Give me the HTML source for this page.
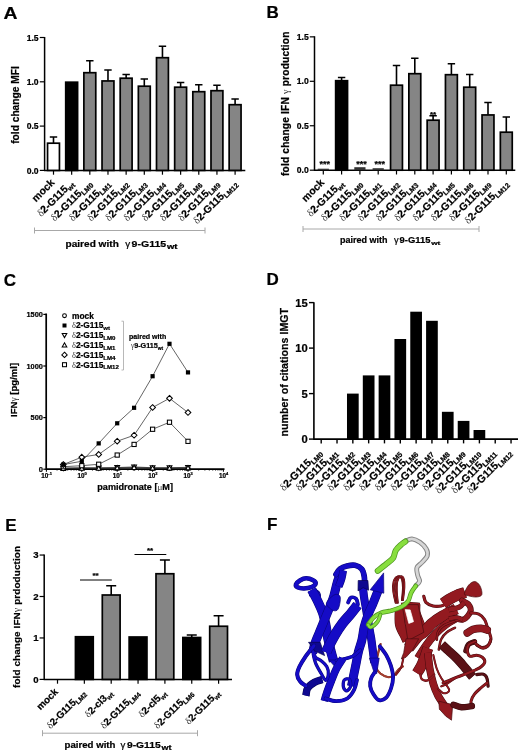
<!DOCTYPE html>
<html><head><meta charset="utf-8"><title>Figure</title>
<style>html,body{margin:0;padding:0;background:#fff}svg{display:block}text{font-family:"Liberation Sans",Arial,Helvetica,sans-serif;fill:#000;stroke:#000;stroke-width:0.22px}</style></head><body>
<svg width="520" height="756" viewBox="0 0 520 756">
<rect width="520" height="756" fill="#fff"/>
<g id="panelA">
<text x="3.6" y="18.8" font-size="17" font-weight="bold" textLength="14" lengthAdjust="spacingAndGlyphs">A</text>
<path d="M44.6 37V170.4M44.0 170.4H245.3" stroke="#000" stroke-width="1.5" fill="none"/>
<path d="M39.8 37.50H44.6" stroke="#000" stroke-width="1.2"/>
<text x="38.6" y="40.60" font-size="8.6" font-weight="bold" text-anchor="end">1.5</text>
<path d="M39.8 81.80H44.6" stroke="#000" stroke-width="1.2"/>
<text x="38.6" y="84.90" font-size="8.6" font-weight="bold" text-anchor="end">1.0</text>
<path d="M39.8 126.10H44.6" stroke="#000" stroke-width="1.2"/>
<text x="38.6" y="129.20" font-size="8.6" font-weight="bold" text-anchor="end">0.5</text>
<path d="M39.8 170.40H44.6" stroke="#000" stroke-width="1.2"/>
<text x="38.6" y="173.50" font-size="8.6" font-weight="bold" text-anchor="end">0.0</text>
<text transform="translate(18.5,105) rotate(-90)" text-anchor="middle" font-size="10.1" font-weight="bold" textLength="77.7" lengthAdjust="spacingAndGlyphs">fold change MFI</text>
<path d="M53.50 170.4V174.70" stroke="#000" stroke-width="1.2"/>
<path d="M53.50 143.00V137.00M49.80 137.00H57.20" stroke="#000" stroke-width="1.6" fill="none"/>
<rect x="47.55" y="143.20" width="11.90" height="27.20" fill="#fff" stroke="#000" stroke-width="1.7"/>
<text transform="translate(55.10,183.20) rotate(-45)" text-anchor="end" font-size="10.4" font-weight="bold">mock</text>
<path d="M71.66 170.4V174.70" stroke="#000" stroke-width="1.2"/>
<rect x="65.71" y="82.20" width="11.90" height="88.20" fill="#000" stroke="#000" stroke-width="1.7"/>
<text transform="translate(74.26,184.20) rotate(-45)" text-anchor="end" font-size="10.4" font-weight="bold"><tspan font-family="Liberation Serif, DejaVu Serif, serif" font-weight="normal" fill="#333" stroke="none">δ</tspan>2-G115<tspan font-size="7.07" dy="2.29">wt</tspan></text>
<path d="M89.82 170.4V174.70" stroke="#000" stroke-width="1.2"/>
<path d="M89.82 72.50V60.75M86.12 60.75H93.52" stroke="#000" stroke-width="1.6" fill="none"/>
<rect x="83.87" y="72.70" width="11.90" height="97.70" fill="#858585" stroke="#000" stroke-width="1.7"/>
<text transform="translate(92.42,184.20) rotate(-45)" text-anchor="end" font-size="10.4" font-weight="bold"><tspan font-family="Liberation Serif, DejaVu Serif, serif" font-weight="normal" fill="#333" stroke="none">δ</tspan>2-G115<tspan font-size="7.07" dy="2.29">LM0</tspan></text>
<path d="M107.98 170.4V174.70" stroke="#000" stroke-width="1.2"/>
<path d="M107.98 80.75V70.00M104.28 70.00H111.68" stroke="#000" stroke-width="1.6" fill="none"/>
<rect x="102.03" y="80.95" width="11.90" height="89.45" fill="#858585" stroke="#000" stroke-width="1.7"/>
<text transform="translate(110.58,184.20) rotate(-45)" text-anchor="end" font-size="10.4" font-weight="bold"><tspan font-family="Liberation Serif, DejaVu Serif, serif" font-weight="normal" fill="#333" stroke="none">δ</tspan>2-G115<tspan font-size="7.07" dy="2.29">LM1</tspan></text>
<path d="M126.14 170.4V174.70" stroke="#000" stroke-width="1.2"/>
<path d="M126.14 78.00V74.50M122.44 74.50H129.84" stroke="#000" stroke-width="1.6" fill="none"/>
<rect x="120.19" y="78.20" width="11.90" height="92.20" fill="#858585" stroke="#000" stroke-width="1.7"/>
<text transform="translate(128.74,184.20) rotate(-45)" text-anchor="end" font-size="10.4" font-weight="bold"><tspan font-family="Liberation Serif, DejaVu Serif, serif" font-weight="normal" fill="#333" stroke="none">δ</tspan>2-G115<tspan font-size="7.07" dy="2.29">LM2</tspan></text>
<path d="M144.30 170.4V174.70" stroke="#000" stroke-width="1.2"/>
<path d="M144.30 86.00V79.00M140.60 79.00H148.00" stroke="#000" stroke-width="1.6" fill="none"/>
<rect x="138.35" y="86.20" width="11.90" height="84.20" fill="#858585" stroke="#000" stroke-width="1.7"/>
<text transform="translate(146.90,184.20) rotate(-45)" text-anchor="end" font-size="10.4" font-weight="bold"><tspan font-family="Liberation Serif, DejaVu Serif, serif" font-weight="normal" fill="#333" stroke="none">δ</tspan>2-G115<tspan font-size="7.07" dy="2.29">LM3</tspan></text>
<path d="M162.46 170.4V174.70" stroke="#000" stroke-width="1.2"/>
<path d="M162.46 57.50V46.25M158.76 46.25H166.16" stroke="#000" stroke-width="1.6" fill="none"/>
<rect x="156.51" y="57.70" width="11.90" height="112.70" fill="#858585" stroke="#000" stroke-width="1.7"/>
<text transform="translate(165.06,184.20) rotate(-45)" text-anchor="end" font-size="10.4" font-weight="bold"><tspan font-family="Liberation Serif, DejaVu Serif, serif" font-weight="normal" fill="#333" stroke="none">δ</tspan>2-G115<tspan font-size="7.07" dy="2.29">LM4</tspan></text>
<path d="M180.62 170.4V174.70" stroke="#000" stroke-width="1.2"/>
<path d="M180.62 87.00V82.50M176.92 82.50H184.32" stroke="#000" stroke-width="1.6" fill="none"/>
<rect x="174.67" y="87.20" width="11.90" height="83.20" fill="#858585" stroke="#000" stroke-width="1.7"/>
<text transform="translate(183.22,184.20) rotate(-45)" text-anchor="end" font-size="10.4" font-weight="bold"><tspan font-family="Liberation Serif, DejaVu Serif, serif" font-weight="normal" fill="#333" stroke="none">δ</tspan>2-G115<tspan font-size="7.07" dy="2.29">LM5</tspan></text>
<path d="M198.78 170.4V174.70" stroke="#000" stroke-width="1.2"/>
<path d="M198.78 91.50V84.75M195.08 84.75H202.48" stroke="#000" stroke-width="1.6" fill="none"/>
<rect x="192.83" y="91.70" width="11.90" height="78.70" fill="#858585" stroke="#000" stroke-width="1.7"/>
<text transform="translate(201.38,184.20) rotate(-45)" text-anchor="end" font-size="10.4" font-weight="bold"><tspan font-family="Liberation Serif, DejaVu Serif, serif" font-weight="normal" fill="#333" stroke="none">δ</tspan>2-G115<tspan font-size="7.07" dy="2.29">LM6</tspan></text>
<path d="M216.94 170.4V174.70" stroke="#000" stroke-width="1.2"/>
<path d="M216.94 90.50V85.25M213.24 85.25H220.64" stroke="#000" stroke-width="1.6" fill="none"/>
<rect x="210.99" y="90.70" width="11.90" height="79.70" fill="#858585" stroke="#000" stroke-width="1.7"/>
<text transform="translate(219.54,184.20) rotate(-45)" text-anchor="end" font-size="10.4" font-weight="bold"><tspan font-family="Liberation Serif, DejaVu Serif, serif" font-weight="normal" fill="#333" stroke="none">δ</tspan>2-G115<tspan font-size="7.07" dy="2.29">LM9</tspan></text>
<path d="M235.10 170.4V174.70" stroke="#000" stroke-width="1.2"/>
<path d="M235.10 104.50V99.00M231.40 99.00H238.80" stroke="#000" stroke-width="1.6" fill="none"/>
<rect x="229.15" y="104.70" width="11.90" height="65.70" fill="#858585" stroke="#000" stroke-width="1.7"/>
<text transform="translate(237.70,184.20) rotate(-45)" text-anchor="end" font-size="10.4" font-weight="bold"><tspan font-family="Liberation Serif, DejaVu Serif, serif" font-weight="normal" fill="#333" stroke="none">δ</tspan>2-G115<tspan font-size="7.07" dy="2.29">LM12</tspan></text>
<path d="M34.5 230.5H205M34.5 227.5V233.5M205 227.5V233.5" stroke="#a8a8a8" stroke-width="1" fill="none"/>
<text x="65.5" y="246.8" font-size="9.9" font-weight="bold" textLength="53.3" lengthAdjust="spacingAndGlyphs">paired with</text>
<text x="125.2" y="246.8" font-size="9.9" font-family="Liberation Serif, DejaVu Serif, serif" font-weight="normal" fill="#333" stroke="none">γ</text>
<text x="131.5" y="246.8" font-size="9.9" font-weight="bold" textLength="34.7" lengthAdjust="spacingAndGlyphs">9-G115</text>
<text x="167" y="248.98" font-size="6.60" font-weight="bold" textLength="10.5" lengthAdjust="spacingAndGlyphs">wt</text>
</g>
<g id="panelB">
<text x="266.6" y="18.2" font-size="17" font-weight="bold">B</text>
<path d="M314.5 36.3V170.2M313.9 170.2H515.3" stroke="#000" stroke-width="1.5" fill="none"/>
<path d="M309.8 36.85H314.5" stroke="#000" stroke-width="1.2"/>
<text x="308.7" y="39.95" font-size="8.6" font-weight="bold" text-anchor="end">1.5</text>
<path d="M309.8 81.30H314.5" stroke="#000" stroke-width="1.2"/>
<text x="308.7" y="84.40" font-size="8.6" font-weight="bold" text-anchor="end">1.0</text>
<path d="M309.8 125.75H314.5" stroke="#000" stroke-width="1.2"/>
<text x="308.7" y="128.85" font-size="8.6" font-weight="bold" text-anchor="end">0.5</text>
<path d="M309.8 170.20H314.5" stroke="#000" stroke-width="1.2"/>
<text x="308.7" y="173.30" font-size="8.6" font-weight="bold" text-anchor="end">0.0</text>
<text transform="translate(289.2,176) rotate(-90)" font-size="10.2" font-weight="bold" textLength="144.5" lengthAdjust="spacing">fold change IFN <tspan font-family="Liberation Serif, DejaVu Serif, serif" font-weight="normal" fill="#333" stroke="none">γ</tspan> production</text>
<path d="M323.30 170.2V174.50" stroke="#000" stroke-width="1.2"/>
<rect x="317.70" y="168.70" width="11.2" height="1.50" fill="#333"/>
<text transform="translate(324.90,183.20) rotate(-45)" text-anchor="end" font-size="10.4" font-weight="bold">mock</text>
<path d="M341.60 170.2V174.50" stroke="#000" stroke-width="1.2"/>
<path d="M341.60 80.50V77.50M337.90 77.50H345.30" stroke="#000" stroke-width="1.6" fill="none"/>
<rect x="335.65" y="80.70" width="11.90" height="89.50" fill="#000" stroke="#000" stroke-width="1.7"/>
<text transform="translate(344.20,184.20) rotate(-45)" text-anchor="end" font-size="10.4" font-weight="bold"><tspan font-family="Liberation Serif, DejaVu Serif, serif" font-weight="normal" fill="#333" stroke="none">δ</tspan>2-G115<tspan font-size="7.07" dy="2.29">wt</tspan></text>
<path d="M359.90 170.2V174.50" stroke="#000" stroke-width="1.2"/>
<rect x="354.30" y="167.20" width="11.2" height="3.00" fill="#333"/>
<text transform="translate(362.50,184.20) rotate(-45)" text-anchor="end" font-size="10.4" font-weight="bold"><tspan font-family="Liberation Serif, DejaVu Serif, serif" font-weight="normal" fill="#333" stroke="none">δ</tspan>2-G115<tspan font-size="7.07" dy="2.29">LM0</tspan></text>
<path d="M378.20 170.2V174.50" stroke="#000" stroke-width="1.2"/>
<rect x="372.60" y="168.20" width="11.2" height="2.00" fill="#333"/>
<text transform="translate(380.80,184.20) rotate(-45)" text-anchor="end" font-size="10.4" font-weight="bold"><tspan font-family="Liberation Serif, DejaVu Serif, serif" font-weight="normal" fill="#333" stroke="none">δ</tspan>2-G115<tspan font-size="7.07" dy="2.29">LM1</tspan></text>
<path d="M396.50 170.2V174.50" stroke="#000" stroke-width="1.2"/>
<path d="M396.50 85.00V65.50M392.80 65.50H400.20" stroke="#000" stroke-width="1.6" fill="none"/>
<rect x="390.55" y="85.20" width="11.90" height="85.00" fill="#858585" stroke="#000" stroke-width="1.7"/>
<text transform="translate(399.10,184.20) rotate(-45)" text-anchor="end" font-size="10.4" font-weight="bold"><tspan font-family="Liberation Serif, DejaVu Serif, serif" font-weight="normal" fill="#333" stroke="none">δ</tspan>2-G115<tspan font-size="7.07" dy="2.29">LM2</tspan></text>
<path d="M414.80 170.2V174.50" stroke="#000" stroke-width="1.2"/>
<path d="M414.80 73.50V58.25M411.10 58.25H418.50" stroke="#000" stroke-width="1.6" fill="none"/>
<rect x="408.85" y="73.70" width="11.90" height="96.50" fill="#858585" stroke="#000" stroke-width="1.7"/>
<text transform="translate(417.40,184.20) rotate(-45)" text-anchor="end" font-size="10.4" font-weight="bold"><tspan font-family="Liberation Serif, DejaVu Serif, serif" font-weight="normal" fill="#333" stroke="none">δ</tspan>2-G115<tspan font-size="7.07" dy="2.29">LM3</tspan></text>
<path d="M433.10 170.2V174.50" stroke="#000" stroke-width="1.2"/>
<path d="M433.10 120.00V115.75M429.40 115.75H436.80" stroke="#000" stroke-width="1.6" fill="none"/>
<rect x="427.15" y="120.20" width="11.90" height="50.00" fill="#858585" stroke="#000" stroke-width="1.7"/>
<text transform="translate(435.70,184.20) rotate(-45)" text-anchor="end" font-size="10.4" font-weight="bold"><tspan font-family="Liberation Serif, DejaVu Serif, serif" font-weight="normal" fill="#333" stroke="none">δ</tspan>2-G115<tspan font-size="7.07" dy="2.29">LM4</tspan></text>
<path d="M451.40 170.2V174.50" stroke="#000" stroke-width="1.2"/>
<path d="M451.40 74.50V63.75M447.70 63.75H455.10" stroke="#000" stroke-width="1.6" fill="none"/>
<rect x="445.45" y="74.70" width="11.90" height="95.50" fill="#858585" stroke="#000" stroke-width="1.7"/>
<text transform="translate(454.00,184.20) rotate(-45)" text-anchor="end" font-size="10.4" font-weight="bold"><tspan font-family="Liberation Serif, DejaVu Serif, serif" font-weight="normal" fill="#333" stroke="none">δ</tspan>2-G115<tspan font-size="7.07" dy="2.29">LM5</tspan></text>
<path d="M469.70 170.2V174.50" stroke="#000" stroke-width="1.2"/>
<path d="M469.70 87.00V74.50M466.00 74.50H473.40" stroke="#000" stroke-width="1.6" fill="none"/>
<rect x="463.75" y="87.20" width="11.90" height="83.00" fill="#858585" stroke="#000" stroke-width="1.7"/>
<text transform="translate(472.30,184.20) rotate(-45)" text-anchor="end" font-size="10.4" font-weight="bold"><tspan font-family="Liberation Serif, DejaVu Serif, serif" font-weight="normal" fill="#333" stroke="none">δ</tspan>2-G115<tspan font-size="7.07" dy="2.29">LM6</tspan></text>
<path d="M488.00 170.2V174.50" stroke="#000" stroke-width="1.2"/>
<path d="M488.00 114.75V102.50M484.30 102.50H491.70" stroke="#000" stroke-width="1.6" fill="none"/>
<rect x="482.05" y="114.95" width="11.90" height="55.25" fill="#858585" stroke="#000" stroke-width="1.7"/>
<text transform="translate(490.60,184.20) rotate(-45)" text-anchor="end" font-size="10.4" font-weight="bold"><tspan font-family="Liberation Serif, DejaVu Serif, serif" font-weight="normal" fill="#333" stroke="none">δ</tspan>2-G115<tspan font-size="7.07" dy="2.29">LM9</tspan></text>
<path d="M506.30 170.2V174.50" stroke="#000" stroke-width="1.2"/>
<path d="M506.30 132.00V117.00M502.60 117.00H510.00" stroke="#000" stroke-width="1.6" fill="none"/>
<rect x="500.35" y="132.20" width="11.90" height="38.00" fill="#858585" stroke="#000" stroke-width="1.7"/>
<text transform="translate(508.90,184.20) rotate(-45)" text-anchor="end" font-size="10.4" font-weight="bold"><tspan font-family="Liberation Serif, DejaVu Serif, serif" font-weight="normal" fill="#333" stroke="none">δ</tspan>2-G115<tspan font-size="7.07" dy="2.29">LM12</tspan></text>
<text x="324.80" y="166.5" font-size="9" font-weight="bold" text-anchor="middle" fill="#444">***</text>
<text x="361.40" y="166.5" font-size="9" font-weight="bold" text-anchor="middle" fill="#444">***</text>
<text x="379.70" y="166.5" font-size="9" font-weight="bold" text-anchor="middle" fill="#444">***</text>
<text x="433.10" y="117" font-size="8" font-weight="bold" text-anchor="middle" fill="#444">**</text>
<path d="M303 229H479M303 226V232M479 226V232" stroke="#a8a8a8" stroke-width="1" fill="none"/>
<text x="340" y="243.2" font-size="9.3" font-weight="bold" textLength="47.4" lengthAdjust="spacingAndGlyphs">paired with</text>
<text x="394.0" y="243.2" font-size="9.3" font-family="Liberation Serif, DejaVu Serif, serif" font-weight="normal" fill="#333" stroke="none">γ</text>
<text x="399.6" y="243.2" font-size="9.3" font-weight="bold" textLength="30.8" lengthAdjust="spacingAndGlyphs">9-G115</text>
<text x="431.2" y="245.25" font-size="6.20" font-weight="bold" textLength="9.2" lengthAdjust="spacingAndGlyphs">wt</text>
</g>
<g id="panelC">
<text x="3.8" y="285.6" font-size="17" font-weight="bold">C</text>
<path d="M46.2 313.6V469.2M45.400000000000006 469.2H224.5" stroke="#000" stroke-width="1.7" fill="none"/>
<path d="M43.3 314.40H46.2" stroke="#000" stroke-width="1.2"/>
<text x="42.9" y="317.20" font-size="7.8" font-weight="bold" text-anchor="end" textLength="16.5" lengthAdjust="spacingAndGlyphs">1500</text>
<path d="M43.3 366.00H46.2" stroke="#000" stroke-width="1.2"/>
<text x="42.9" y="368.80" font-size="7.8" font-weight="bold" text-anchor="end" textLength="16.5" lengthAdjust="spacingAndGlyphs">1000</text>
<path d="M43.3 417.60H46.2" stroke="#000" stroke-width="1.2"/>
<text x="42.9" y="420.40" font-size="7.8" font-weight="bold" text-anchor="end" textLength="12.4" lengthAdjust="spacingAndGlyphs">500</text>
<path d="M43.3 469.20H46.2" stroke="#000" stroke-width="1.2"/>
<text x="42.9" y="472.00" font-size="7.8" font-weight="bold" text-anchor="end" textLength="4.2" lengthAdjust="spacingAndGlyphs">0</text>
<path d="M46.40 469.2V471.8" stroke="#000" stroke-width="1"/>
<text x="46.60" y="477.80" font-size="6.3" font-weight="bold" text-anchor="middle">10<tspan font-size="4" dy="-2.4">-1</tspan></text>
<path d="M57.06 469.2V470.8" stroke="#000" stroke-width="0.6"/>
<path d="M63.29 469.2V470.8" stroke="#000" stroke-width="0.6"/>
<path d="M67.71 469.2V470.8" stroke="#000" stroke-width="0.6"/>
<path d="M71.14 469.2V470.8" stroke="#000" stroke-width="0.6"/>
<path d="M73.95 469.2V470.8" stroke="#000" stroke-width="0.6"/>
<path d="M76.32 469.2V470.8" stroke="#000" stroke-width="0.6"/>
<path d="M78.37 469.2V470.8" stroke="#000" stroke-width="0.6"/>
<path d="M80.18 469.2V470.8" stroke="#000" stroke-width="0.6"/>
<path d="M81.80 469.2V471.8" stroke="#000" stroke-width="1"/>
<text x="82.00" y="477.80" font-size="6.3" font-weight="bold" text-anchor="middle">10<tspan font-size="4" dy="-2.4">0</tspan></text>
<path d="M92.46 469.2V470.8" stroke="#000" stroke-width="0.6"/>
<path d="M98.69 469.2V470.8" stroke="#000" stroke-width="0.6"/>
<path d="M103.11 469.2V470.8" stroke="#000" stroke-width="0.6"/>
<path d="M106.54 469.2V470.8" stroke="#000" stroke-width="0.6"/>
<path d="M109.35 469.2V470.8" stroke="#000" stroke-width="0.6"/>
<path d="M111.72 469.2V470.8" stroke="#000" stroke-width="0.6"/>
<path d="M113.77 469.2V470.8" stroke="#000" stroke-width="0.6"/>
<path d="M115.58 469.2V470.8" stroke="#000" stroke-width="0.6"/>
<path d="M117.20 469.2V471.8" stroke="#000" stroke-width="1"/>
<text x="117.40" y="477.80" font-size="6.3" font-weight="bold" text-anchor="middle">10<tspan font-size="4" dy="-2.4">1</tspan></text>
<path d="M127.86 469.2V470.8" stroke="#000" stroke-width="0.6"/>
<path d="M134.09 469.2V470.8" stroke="#000" stroke-width="0.6"/>
<path d="M138.51 469.2V470.8" stroke="#000" stroke-width="0.6"/>
<path d="M141.94 469.2V470.8" stroke="#000" stroke-width="0.6"/>
<path d="M144.75 469.2V470.8" stroke="#000" stroke-width="0.6"/>
<path d="M147.12 469.2V470.8" stroke="#000" stroke-width="0.6"/>
<path d="M149.17 469.2V470.8" stroke="#000" stroke-width="0.6"/>
<path d="M150.98 469.2V470.8" stroke="#000" stroke-width="0.6"/>
<path d="M152.60 469.2V471.8" stroke="#000" stroke-width="1"/>
<text x="152.80" y="477.80" font-size="6.3" font-weight="bold" text-anchor="middle">10<tspan font-size="4" dy="-2.4">2</tspan></text>
<path d="M163.26 469.2V470.8" stroke="#000" stroke-width="0.6"/>
<path d="M169.49 469.2V470.8" stroke="#000" stroke-width="0.6"/>
<path d="M173.91 469.2V470.8" stroke="#000" stroke-width="0.6"/>
<path d="M177.34 469.2V470.8" stroke="#000" stroke-width="0.6"/>
<path d="M180.15 469.2V470.8" stroke="#000" stroke-width="0.6"/>
<path d="M182.52 469.2V470.8" stroke="#000" stroke-width="0.6"/>
<path d="M184.57 469.2V470.8" stroke="#000" stroke-width="0.6"/>
<path d="M186.38 469.2V470.8" stroke="#000" stroke-width="0.6"/>
<path d="M188.00 469.2V471.8" stroke="#000" stroke-width="1"/>
<text x="188.20" y="477.80" font-size="6.3" font-weight="bold" text-anchor="middle">10<tspan font-size="4" dy="-2.4">3</tspan></text>
<path d="M198.66 469.2V470.8" stroke="#000" stroke-width="0.6"/>
<path d="M204.89 469.2V470.8" stroke="#000" stroke-width="0.6"/>
<path d="M209.31 469.2V470.8" stroke="#000" stroke-width="0.6"/>
<path d="M212.74 469.2V470.8" stroke="#000" stroke-width="0.6"/>
<path d="M215.55 469.2V470.8" stroke="#000" stroke-width="0.6"/>
<path d="M217.92 469.2V470.8" stroke="#000" stroke-width="0.6"/>
<path d="M219.97 469.2V470.8" stroke="#000" stroke-width="0.6"/>
<path d="M221.78 469.2V470.8" stroke="#000" stroke-width="0.6"/>
<path d="M223.40 469.2V471.8" stroke="#000" stroke-width="1"/>
<text x="223.60" y="477.80" font-size="6.3" font-weight="bold" text-anchor="middle">10<tspan font-size="4" dy="-2.4">4</tspan></text>
<text transform="translate(17.1,416.9) rotate(-90)" font-size="9.5" font-weight="bold" textLength="54" lengthAdjust="spacing">IFN<tspan font-family="Liberation Serif, DejaVu Serif, serif" font-weight="normal" fill="#333" stroke="none">γ</tspan> [pg/ml]</text>
<text x="97.3" y="489.6" font-size="9.1" font-weight="bold">pamidronate [<tspan font-family="Liberation Serif, DejaVu Serif, serif" font-weight="normal" fill="#333" stroke="none">μ</tspan>M]</text>
<polyline points="63.29,467.96 81.80,467.76 98.69,467.96 117.20,468.17 134.09,467.96 152.60,468.17 169.49,468.17 188.00,468.17" fill="none" stroke="#222" stroke-width="0.7"/>
<circle cx="63.29" cy="467.96" r="1.99" fill="#fff" stroke="#000" stroke-width="1.05"/>
<circle cx="81.80" cy="467.76" r="1.99" fill="#fff" stroke="#000" stroke-width="1.05"/>
<circle cx="98.69" cy="467.96" r="1.99" fill="#fff" stroke="#000" stroke-width="1.05"/>
<circle cx="117.20" cy="468.17" r="1.99" fill="#fff" stroke="#000" stroke-width="1.05"/>
<circle cx="134.09" cy="467.96" r="1.99" fill="#fff" stroke="#000" stroke-width="1.05"/>
<circle cx="152.60" cy="468.17" r="1.99" fill="#fff" stroke="#000" stroke-width="1.05"/>
<circle cx="169.49" cy="468.17" r="1.99" fill="#fff" stroke="#000" stroke-width="1.05"/>
<circle cx="188.00" cy="468.17" r="1.99" fill="#fff" stroke="#000" stroke-width="1.05"/>
<polyline points="63.29,468.37 81.80,468.17 98.69,467.96 117.20,467.55 134.09,466.93 152.60,467.76 169.49,467.76 188.00,467.34" fill="none" stroke="#222" stroke-width="0.7"/>
<path d="M60.88 466.44H65.71L63.29 470.79Z" fill="#fff" stroke="#000" stroke-width="1.05"/>
<path d="M79.38 466.24H84.22L81.80 470.58Z" fill="#fff" stroke="#000" stroke-width="1.05"/>
<path d="M96.28 466.03H101.11L98.69 470.38Z" fill="#fff" stroke="#000" stroke-width="1.05"/>
<path d="M114.78 465.62H119.61L117.20 469.96Z" fill="#fff" stroke="#000" stroke-width="1.05"/>
<path d="M131.68 465.00H136.51L134.09 469.34Z" fill="#fff" stroke="#000" stroke-width="1.05"/>
<path d="M150.19 465.82H155.01L152.60 470.17Z" fill="#fff" stroke="#000" stroke-width="1.05"/>
<path d="M167.08 465.82H171.91L169.49 470.17Z" fill="#fff" stroke="#000" stroke-width="1.05"/>
<path d="M185.59 465.41H190.41L188.00 469.76Z" fill="#fff" stroke="#000" stroke-width="1.05"/>
<polyline points="63.29,468.58 81.80,468.37 98.69,468.37 117.20,467.96 134.09,467.55 152.60,468.17 169.49,468.17 188.00,467.96" fill="none" stroke="#222" stroke-width="0.7"/>
<path d="M60.88 470.51H65.71L63.29 466.17Z" fill="#fff" stroke="#000" stroke-width="1.05"/>
<path d="M79.38 470.31H84.22L81.80 465.96Z" fill="#fff" stroke="#000" stroke-width="1.05"/>
<path d="M96.28 470.31H101.11L98.69 465.96Z" fill="#fff" stroke="#000" stroke-width="1.05"/>
<path d="M114.78 469.89H119.61L117.20 465.55Z" fill="#fff" stroke="#000" stroke-width="1.05"/>
<path d="M131.68 469.48H136.51L134.09 465.13Z" fill="#fff" stroke="#000" stroke-width="1.05"/>
<path d="M150.19 470.10H155.01L152.60 465.75Z" fill="#fff" stroke="#000" stroke-width="1.05"/>
<path d="M167.08 470.10H171.91L169.49 465.75Z" fill="#fff" stroke="#000" stroke-width="1.05"/>
<path d="M185.59 469.89H190.41L188.00 465.55Z" fill="#fff" stroke="#000" stroke-width="1.05"/>
<polyline points="63.29,466.72 81.80,465.69 98.69,464.25 117.20,455.06 134.09,444.43 152.60,429.26 169.49,422.24 188.00,441.34" fill="none" stroke="#222" stroke-width="0.7"/>
<rect x="61.19" y="464.62" width="4.2" height="4.2" fill="#fff" stroke="#000" stroke-width="1.05"/>
<rect x="79.70" y="463.59" width="4.2" height="4.2" fill="#fff" stroke="#000" stroke-width="1.05"/>
<rect x="96.59" y="462.15" width="4.2" height="4.2" fill="#fff" stroke="#000" stroke-width="1.05"/>
<rect x="115.10" y="452.96" width="4.2" height="4.2" fill="#fff" stroke="#000" stroke-width="1.05"/>
<rect x="131.99" y="442.33" width="4.2" height="4.2" fill="#fff" stroke="#000" stroke-width="1.05"/>
<rect x="150.50" y="427.16" width="4.2" height="4.2" fill="#fff" stroke="#000" stroke-width="1.05"/>
<rect x="167.39" y="420.14" width="4.2" height="4.2" fill="#fff" stroke="#000" stroke-width="1.05"/>
<rect x="185.90" y="439.24" width="4.2" height="4.2" fill="#fff" stroke="#000" stroke-width="1.05"/>
<polyline points="63.29,464.56 81.80,457.13 98.69,454.44 117.20,441.23 134.09,435.25 152.60,407.49 169.49,398.30 188.00,412.54" fill="none" stroke="#222" stroke-width="0.7"/>
<path d="M63.29 461.72L66.13 464.56L63.29 467.39L60.46 464.56Z" fill="#fff" stroke="#000" stroke-width="1.05"/>
<path d="M81.80 454.29L84.63 457.13L81.80 459.96L78.97 457.13Z" fill="#fff" stroke="#000" stroke-width="1.05"/>
<path d="M98.69 451.61L101.53 454.44L98.69 457.28L95.86 454.44Z" fill="#fff" stroke="#000" stroke-width="1.05"/>
<path d="M117.20 438.40L120.03 441.23L117.20 444.07L114.36 441.23Z" fill="#fff" stroke="#000" stroke-width="1.05"/>
<path d="M134.09 432.41L136.93 435.25L134.09 438.08L131.26 435.25Z" fill="#fff" stroke="#000" stroke-width="1.05"/>
<path d="M152.60 404.65L155.44 407.49L152.60 410.32L149.76 407.49Z" fill="#fff" stroke="#000" stroke-width="1.05"/>
<path d="M169.49 395.47L172.33 398.30L169.49 401.14L166.66 398.30Z" fill="#fff" stroke="#000" stroke-width="1.05"/>
<path d="M188.00 409.71L190.84 412.54L188.00 415.38L185.16 412.54Z" fill="#fff" stroke="#000" stroke-width="1.05"/>
<polyline points="63.29,464.56 81.80,461.25 98.69,443.40 117.20,423.28 134.09,407.80 152.60,376.22 169.49,343.81 188.00,372.40" fill="none" stroke="#222" stroke-width="0.7"/>
<rect x="61.19" y="462.46" width="4.2" height="4.2" fill="#000"/>
<rect x="79.70" y="459.15" width="4.2" height="4.2" fill="#000"/>
<rect x="96.59" y="441.30" width="4.2" height="4.2" fill="#000"/>
<rect x="115.10" y="421.18" width="4.2" height="4.2" fill="#000"/>
<rect x="131.99" y="405.70" width="4.2" height="4.2" fill="#000"/>
<rect x="150.50" y="374.12" width="4.2" height="4.2" fill="#000"/>
<rect x="167.39" y="341.71" width="4.2" height="4.2" fill="#000"/>
<rect x="185.90" y="370.30" width="4.2" height="4.2" fill="#000"/>
<circle cx="64.50" cy="315.70" r="1.90" fill="#fff" stroke="#000" stroke-width="1.05"/>
<text x="72" y="318.60" font-size="8.35" font-weight="bold">mock</text>
<rect x="62.50" y="323.50" width="4.0" height="4.0" fill="#000"/>
<text x="72" y="328.40" font-size="8.35" font-weight="bold"><tspan font-family="Liberation Serif, DejaVu Serif, serif" font-weight="normal" fill="#333" stroke="none">δ</tspan>2-G115<tspan font-size="6.1" dy="1.8">wt</tspan></text>
<path d="M62.20 333.46H66.80L64.50 337.60Z" fill="#fff" stroke="#000" stroke-width="1.05"/>
<text x="72" y="338.20" font-size="8.35" font-weight="bold"><tspan font-family="Liberation Serif, DejaVu Serif, serif" font-weight="normal" fill="#333" stroke="none">δ</tspan>2-G115<tspan font-size="6.1" dy="1.8">LM0</tspan></text>
<path d="M62.20 346.94H66.80L64.50 342.80Z" fill="#fff" stroke="#000" stroke-width="1.05"/>
<text x="72" y="348.00" font-size="8.35" font-weight="bold"><tspan font-family="Liberation Serif, DejaVu Serif, serif" font-weight="normal" fill="#333" stroke="none">δ</tspan>2-G115<tspan font-size="6.1" dy="1.8">LM1</tspan></text>
<path d="M64.50 352.20L67.20 354.90L64.50 357.60L61.80 354.90Z" fill="#fff" stroke="#000" stroke-width="1.05"/>
<text x="72" y="357.80" font-size="8.35" font-weight="bold"><tspan font-family="Liberation Serif, DejaVu Serif, serif" font-weight="normal" fill="#333" stroke="none">δ</tspan>2-G115<tspan font-size="6.1" dy="1.8">LM4</tspan></text>
<rect x="62.50" y="362.70" width="4.0" height="4.0" fill="#fff" stroke="#000" stroke-width="1.05"/>
<text x="72" y="367.60" font-size="8.35" font-weight="bold"><tspan font-family="Liberation Serif, DejaVu Serif, serif" font-weight="normal" fill="#333" stroke="none">δ</tspan>2-G115<tspan font-size="6.1" dy="1.8">LM12</tspan></text>
<path d="M121.5 321.2H123.5V370H121.5" stroke="#b0b0b0" stroke-width="0.9" fill="none"/>
<text x="129" y="338.7" font-size="7.2" font-weight="bold" textLength="37.2" lengthAdjust="spacingAndGlyphs">paired with</text>
<text x="131" y="348.3" font-size="7.2" font-weight="bold"><tspan font-family="Liberation Serif, DejaVu Serif, serif" font-weight="normal" fill="#333" stroke="none">γ</tspan>9-G115<tspan font-size="4.8" dy="1.6">wt</tspan></text>
</g>
<g id="panelD">
<text x="266.6" y="285.2" font-size="17" font-weight="bold">D</text>
<path d="M313.9 302.3V439.1M313.09999999999997 439.1H518" stroke="#000" stroke-width="1.6" fill="none"/>
<path d="M309 302.60H313.9" stroke="#000" stroke-width="1.4"/>
<text x="307.8" y="306.60" font-size="11.2" font-weight="bold" text-anchor="end">15</text>
<path d="M309 348.10H313.9" stroke="#000" stroke-width="1.4"/>
<text x="307.8" y="352.10" font-size="11.2" font-weight="bold" text-anchor="end">10</text>
<path d="M309 393.60H313.9" stroke="#000" stroke-width="1.4"/>
<text x="307.8" y="397.60" font-size="11.2" font-weight="bold" text-anchor="end">5</text>
<path d="M309 439.10H313.9" stroke="#000" stroke-width="1.4"/>
<text x="307.8" y="443.10" font-size="11.2" font-weight="bold" text-anchor="end">0</text>
<text transform="translate(288.3,436.4) rotate(-90)" font-size="10.6" font-weight="bold" textLength="128.5" lengthAdjust="spacingAndGlyphs">number of citations IMGT</text>
<path d="M321.20 439.1V443.40" stroke="#000" stroke-width="1.4"/>
<text transform="translate(322.20,453.20) rotate(-45)" text-anchor="end" font-size="10.6" font-weight="bold"><tspan font-family="Liberation Serif, DejaVu Serif, serif" font-weight="normal" fill="#333" stroke="none">δ</tspan>2-G115<tspan font-size="7.21" dy="2.33">LM0</tspan></text>
<path d="M337.02 439.1V443.40" stroke="#000" stroke-width="1.4"/>
<text transform="translate(338.02,453.20) rotate(-45)" text-anchor="end" font-size="10.6" font-weight="bold"><tspan font-family="Liberation Serif, DejaVu Serif, serif" font-weight="normal" fill="#333" stroke="none">δ</tspan>2-G115<tspan font-size="7.21" dy="2.33">LM1</tspan></text>
<path d="M352.84 439.1V443.40" stroke="#000" stroke-width="1.4"/>
<rect x="346.99" y="393.60" width="11.7" height="45.50" fill="#000"/>
<text transform="translate(353.84,453.20) rotate(-45)" text-anchor="end" font-size="10.6" font-weight="bold"><tspan font-family="Liberation Serif, DejaVu Serif, serif" font-weight="normal" fill="#333" stroke="none">δ</tspan>2-G115<tspan font-size="7.21" dy="2.33">LM2</tspan></text>
<path d="M368.66 439.1V443.40" stroke="#000" stroke-width="1.4"/>
<rect x="362.81" y="375.40" width="11.7" height="63.70" fill="#000"/>
<text transform="translate(369.66,453.20) rotate(-45)" text-anchor="end" font-size="10.6" font-weight="bold"><tspan font-family="Liberation Serif, DejaVu Serif, serif" font-weight="normal" fill="#333" stroke="none">δ</tspan>2-G115<tspan font-size="7.21" dy="2.33">LM3</tspan></text>
<path d="M384.48 439.1V443.40" stroke="#000" stroke-width="1.4"/>
<rect x="378.63" y="375.40" width="11.7" height="63.70" fill="#000"/>
<text transform="translate(385.48,453.20) rotate(-45)" text-anchor="end" font-size="10.6" font-weight="bold"><tspan font-family="Liberation Serif, DejaVu Serif, serif" font-weight="normal" fill="#333" stroke="none">δ</tspan>2-G115<tspan font-size="7.21" dy="2.33">LM4</tspan></text>
<path d="M400.30 439.1V443.40" stroke="#000" stroke-width="1.4"/>
<rect x="394.45" y="339.00" width="11.7" height="100.10" fill="#000"/>
<text transform="translate(401.30,453.20) rotate(-45)" text-anchor="end" font-size="10.6" font-weight="bold"><tspan font-family="Liberation Serif, DejaVu Serif, serif" font-weight="normal" fill="#333" stroke="none">δ</tspan>2-G115<tspan font-size="7.21" dy="2.33">LM5</tspan></text>
<path d="M416.12 439.1V443.40" stroke="#000" stroke-width="1.4"/>
<rect x="410.27" y="311.70" width="11.7" height="127.40" fill="#000"/>
<text transform="translate(417.12,453.20) rotate(-45)" text-anchor="end" font-size="10.6" font-weight="bold"><tspan font-family="Liberation Serif, DejaVu Serif, serif" font-weight="normal" fill="#333" stroke="none">δ</tspan>2-G115<tspan font-size="7.21" dy="2.33">LM6</tspan></text>
<path d="M431.94 439.1V443.40" stroke="#000" stroke-width="1.4"/>
<rect x="426.09" y="320.80" width="11.7" height="118.30" fill="#000"/>
<text transform="translate(432.94,453.20) rotate(-45)" text-anchor="end" font-size="10.6" font-weight="bold"><tspan font-family="Liberation Serif, DejaVu Serif, serif" font-weight="normal" fill="#333" stroke="none">δ</tspan>2-G115<tspan font-size="7.21" dy="2.33">LM7</tspan></text>
<path d="M447.76 439.1V443.40" stroke="#000" stroke-width="1.4"/>
<rect x="441.91" y="411.80" width="11.7" height="27.30" fill="#000"/>
<text transform="translate(448.76,453.20) rotate(-45)" text-anchor="end" font-size="10.6" font-weight="bold"><tspan font-family="Liberation Serif, DejaVu Serif, serif" font-weight="normal" fill="#333" stroke="none">δ</tspan>2-G115<tspan font-size="7.21" dy="2.33">LM8</tspan></text>
<path d="M463.58 439.1V443.40" stroke="#000" stroke-width="1.4"/>
<rect x="457.73" y="420.90" width="11.7" height="18.20" fill="#000"/>
<text transform="translate(464.58,453.20) rotate(-45)" text-anchor="end" font-size="10.6" font-weight="bold"><tspan font-family="Liberation Serif, DejaVu Serif, serif" font-weight="normal" fill="#333" stroke="none">δ</tspan>2-G115<tspan font-size="7.21" dy="2.33">LM9</tspan></text>
<path d="M479.40 439.1V443.40" stroke="#000" stroke-width="1.4"/>
<rect x="473.55" y="430.00" width="11.7" height="9.10" fill="#000"/>
<text transform="translate(480.40,453.20) rotate(-45)" text-anchor="end" font-size="10.6" font-weight="bold"><tspan font-family="Liberation Serif, DejaVu Serif, serif" font-weight="normal" fill="#333" stroke="none">δ</tspan>2-G115<tspan font-size="7.21" dy="2.33">LM10</tspan></text>
<path d="M495.22 439.1V443.40" stroke="#000" stroke-width="1.4"/>
<text transform="translate(496.22,453.20) rotate(-45)" text-anchor="end" font-size="10.6" font-weight="bold"><tspan font-family="Liberation Serif, DejaVu Serif, serif" font-weight="normal" fill="#333" stroke="none">δ</tspan>2-G115<tspan font-size="7.21" dy="2.33">LM11</tspan></text>
<path d="M511.04 439.1V443.40" stroke="#000" stroke-width="1.4"/>
<text transform="translate(512.04,453.20) rotate(-45)" text-anchor="end" font-size="10.6" font-weight="bold"><tspan font-family="Liberation Serif, DejaVu Serif, serif" font-weight="normal" fill="#333" stroke="none">δ</tspan>2-G115<tspan font-size="7.21" dy="2.33">LM12</tspan></text>
</g>
<g id="panelE">
<text x="5.2" y="530.6" font-size="17" font-weight="bold">E</text>
<path d="M44.2 554.4V679.4M43.6 679.4H232" stroke="#000" stroke-width="1.5" fill="none"/>
<path d="M39.6 555.05H44.2" stroke="#000" stroke-width="1.2"/>
<text x="38.7" y="558.25" font-size="9.6" font-weight="bold" text-anchor="end">3</text>
<path d="M39.6 596.50H44.2" stroke="#000" stroke-width="1.2"/>
<text x="38.7" y="599.70" font-size="9.6" font-weight="bold" text-anchor="end">2</text>
<path d="M39.6 637.95H44.2" stroke="#000" stroke-width="1.2"/>
<text x="38.7" y="641.15" font-size="9.6" font-weight="bold" text-anchor="end">1</text>
<path d="M39.6 679.40H44.2" stroke="#000" stroke-width="1.2"/>
<text x="38.7" y="682.60" font-size="9.6" font-weight="bold" text-anchor="end">0</text>
<text transform="translate(19.7,688) rotate(-90)" font-size="9.9" font-weight="bold" textLength="142" lengthAdjust="spacing">fold change IFN<tspan font-family="Liberation Serif, DejaVu Serif, serif" font-weight="normal" fill="#333" stroke="none">γ</tspan> prdoduction</text>
<path d="M57.50 679.4V683.70" stroke="#000" stroke-width="1.2"/>
<text transform="translate(58.70,692.50) rotate(-45)" text-anchor="end" font-size="9.8" font-weight="bold">mock</text>
<path d="M84.35 679.4V683.70" stroke="#000" stroke-width="1.2"/>
<rect x="75.45" y="636.75" width="17.80" height="42.65" fill="#000" stroke="#000" stroke-width="1.7"/>
<text transform="translate(86.15,693.60) rotate(-45)" text-anchor="end" font-size="9.9" font-weight="bold"><tspan font-family="Liberation Serif, DejaVu Serif, serif" font-weight="normal" fill="#333" stroke="none">δ</tspan>2-G115<tspan font-size="6.73" dy="2.18">LM2</tspan></text>
<path d="M111.20 679.4V683.70" stroke="#000" stroke-width="1.2"/>
<path d="M111.20 595.00V585.75M106.20 585.75H116.20" stroke="#000" stroke-width="1.6" fill="none"/>
<rect x="102.30" y="595.00" width="17.80" height="84.40" fill="#858585" stroke="#000" stroke-width="1.7"/>
<text transform="translate(113.00,693.60) rotate(-45)" text-anchor="end" font-size="9.9" font-weight="bold"><tspan font-family="Liberation Serif, DejaVu Serif, serif" font-weight="normal" fill="#333" stroke="none">δ</tspan>2-cl3<tspan font-size="6.73" dy="2.18">wt</tspan></text>
<path d="M138.05 679.4V683.70" stroke="#000" stroke-width="1.2"/>
<rect x="129.15" y="637.00" width="17.80" height="42.40" fill="#000" stroke="#000" stroke-width="1.7"/>
<text transform="translate(139.85,693.60) rotate(-45)" text-anchor="end" font-size="9.9" font-weight="bold"><tspan font-family="Liberation Serif, DejaVu Serif, serif" font-weight="normal" fill="#333" stroke="none">δ</tspan>2-G115<tspan font-size="6.73" dy="2.18">LM4</tspan></text>
<path d="M164.90 679.4V683.70" stroke="#000" stroke-width="1.2"/>
<path d="M164.90 573.75V560.00M159.90 560.00H169.90" stroke="#000" stroke-width="1.6" fill="none"/>
<rect x="156.00" y="573.75" width="17.80" height="105.65" fill="#858585" stroke="#000" stroke-width="1.7"/>
<text transform="translate(166.70,693.60) rotate(-45)" text-anchor="end" font-size="9.9" font-weight="bold"><tspan font-family="Liberation Serif, DejaVu Serif, serif" font-weight="normal" fill="#333" stroke="none">δ</tspan>2-cl5<tspan font-size="6.73" dy="2.18">wt</tspan></text>
<path d="M191.75 679.4V683.70" stroke="#000" stroke-width="1.2"/>
<path d="M191.75 637.50V635.00M186.75 635.00H196.75" stroke="#000" stroke-width="1.6" fill="none"/>
<rect x="182.85" y="637.50" width="17.80" height="41.90" fill="#000" stroke="#000" stroke-width="1.7"/>
<text transform="translate(193.55,693.60) rotate(-45)" text-anchor="end" font-size="9.9" font-weight="bold"><tspan font-family="Liberation Serif, DejaVu Serif, serif" font-weight="normal" fill="#333" stroke="none">δ</tspan>2-G115<tspan font-size="6.73" dy="2.18">LM6</tspan></text>
<path d="M218.60 679.4V683.70" stroke="#000" stroke-width="1.2"/>
<path d="M218.60 626.25V615.75M213.60 615.75H223.60" stroke="#000" stroke-width="1.6" fill="none"/>
<rect x="209.70" y="626.25" width="17.80" height="53.15" fill="#858585" stroke="#000" stroke-width="1.7"/>
<text transform="translate(220.40,693.60) rotate(-45)" text-anchor="end" font-size="9.9" font-weight="bold"><tspan font-family="Liberation Serif, DejaVu Serif, serif" font-weight="normal" fill="#333" stroke="none">δ</tspan>2-G115<tspan font-size="6.73" dy="2.18">wt</tspan></text>
<path d="M80 580H111.8M134.5 554.5H166.3" stroke="#000" stroke-width="1"/>
<text x="95.5" y="578.3" font-size="8" font-weight="bold" text-anchor="middle" fill="#444">**</text>
<text x="150" y="552.6" font-size="8" font-weight="bold" text-anchor="middle" fill="#444">**</text>
<path d="M42.5 733.2H197.5M42.5 730.2V736.2M197.5 730.2V736.2" stroke="#a8a8a8" stroke-width="1" fill="none"/>
<text x="64.5" y="748" font-size="9.7" font-weight="bold" textLength="51" lengthAdjust="spacingAndGlyphs">paired with</text>
<text x="120.4" y="748" font-size="9.7" font-family="Liberation Serif, DejaVu Serif, serif" font-weight="normal" fill="#333" stroke="none">γ</text>
<text x="126.9" y="748" font-size="9.7" font-weight="bold" textLength="33.9" lengthAdjust="spacingAndGlyphs">9-G115</text>
<text x="161.5" y="750.13" font-size="6.40" font-weight="bold" textLength="10" lengthAdjust="spacingAndGlyphs">wt</text>
</g>
<g id="panelF">
<text x="267" y="530" font-size="17" font-weight="bold">F</text>
<path d="M380.6 644.0C380.0 646.2 377.9 653.5 377.2 657.3C376.4 661.1 375.5 664.1 376.0 666.8C376.5 669.5 378.3 671.7 380.4 673.5C382.5 675.2 386.2 676.9 388.5 677.2C390.8 677.4 392.6 676.1 394.2 674.8C395.9 673.6 396.8 671.2 398.3 669.8C399.7 668.4 402.1 667.1 402.9 666.5" fill="none" stroke="#7a2a22" stroke-width="2.16" stroke-linecap="round" stroke-linejoin="round"/>
<path d="M380.6 644.0C380.0 646.2 377.9 653.5 377.2 657.3C376.4 661.1 375.5 664.1 376.0 666.8C376.5 669.5 378.3 671.7 380.4 673.5C382.5 675.2 386.2 676.9 388.5 677.2C390.8 677.4 392.6 676.1 394.2 674.8C395.9 673.6 396.8 671.2 398.3 669.8C399.7 668.4 402.1 667.1 402.9 666.5" fill="none" stroke="#a5402f" stroke-width="1.66" stroke-linecap="round" stroke-linejoin="round"/>
<path d="M296.0 584.4C296.4 583.3 298.2 581.4 299.9 580.4C301.6 579.4 304.0 578.3 306.2 578.3C308.3 578.3 311.5 579.3 313.1 580.2C314.7 581.0 315.9 582.5 315.6 583.6C315.3 584.8 313.4 586.3 311.5 587.1C309.5 587.9 306.2 588.4 303.8 588.5C301.5 588.5 298.9 588.0 297.6 587.3C296.3 586.6 295.6 585.6 296.0 584.4Z" fill="none" stroke="#0a0678" stroke-width="4.63" stroke-linecap="round" stroke-linejoin="round"/>
<path d="M296.0 584.4C296.4 583.3 298.2 581.4 299.9 580.4C301.6 579.4 304.0 578.3 306.2 578.3C308.3 578.3 311.5 579.3 313.1 580.2C314.7 581.0 315.9 582.5 315.6 583.6C315.3 584.8 313.4 586.3 311.5 587.1C309.5 587.9 306.2 588.4 303.8 588.5C301.5 588.5 298.9 588.0 297.6 587.3C296.3 586.6 295.6 585.6 296.0 584.4Z" fill="none" stroke="#150bc6" stroke-width="3.63" stroke-linecap="round" stroke-linejoin="round"/>
<path d="M310.5 595.2C310.9 594.5 311.5 591.6 312.6 591.0C313.7 590.4 316.1 590.6 317.2 591.5C318.4 592.3 319.5 594.6 319.5 596.1C319.6 597.5 317.8 599.5 317.5 600.2" fill="none" stroke="#0a0678" stroke-width="3.00" stroke-linecap="round" stroke-linejoin="round"/>
<path d="M310.5 595.2C310.9 594.5 311.5 591.6 312.6 591.0C313.7 590.4 316.1 590.6 317.2 591.5C318.4 592.3 319.5 594.6 319.5 596.1C319.6 597.5 317.8 599.5 317.5 600.2" fill="none" stroke="#150bc6" stroke-width="2.00" stroke-linecap="round" stroke-linejoin="round"/>
<path d="M311.7 589.8C312.7 591.7 315.8 597.2 317.7 601.2C319.6 605.1 321.5 609.2 322.9 613.3C324.2 617.3 324.9 621.3 325.8 625.4C326.6 629.4 327.0 633.4 327.8 637.5C328.7 641.6 329.7 646.2 330.6 650.2C331.6 654.1 333.1 659.3 333.6 661.2" fill="none" stroke="#0a0678" stroke-width="9.53" stroke-linecap="butt" stroke-linejoin="round"/>
<path d="M311.7 589.8C312.7 591.7 315.8 597.2 317.7 601.2C319.6 605.1 321.5 609.2 322.9 613.3C324.2 617.3 324.9 621.3 325.8 625.4C326.6 629.4 327.0 633.4 327.8 637.5C328.7 641.6 329.7 646.2 330.6 650.2C331.6 654.1 333.1 659.3 333.6 661.2" fill="none" stroke="#150bc6" stroke-width="8.53" stroke-linecap="butt" stroke-linejoin="round"/>
<path d="M329.0 660.0 L338.5 660.0 L336.2 668.1Z" fill="#150bc6" stroke="#0a0678" stroke-width="0.7" stroke-linejoin="round"/>
<path d="M342.2 570.0C341.4 571.9 338.9 577.2 337.5 581.5C336.2 585.9 335.1 591.7 333.8 596.0C332.6 600.2 331.3 603.0 329.8 606.9C328.3 610.9 326.3 615.4 324.6 619.6C322.9 623.8 321.1 628.3 319.4 632.3C317.8 636.3 315.9 640.4 314.8 643.8C313.7 647.3 313.0 651.5 312.6 653.1" fill="none" stroke="#0a0678" stroke-width="8.99" stroke-linecap="butt" stroke-linejoin="round"/>
<path d="M342.2 570.0C341.4 571.9 338.9 577.2 337.5 581.5C336.2 585.9 335.1 591.7 333.8 596.0C332.6 600.2 331.3 603.0 329.8 606.9C328.3 610.9 326.3 615.4 324.6 619.6C322.9 623.8 321.1 628.3 319.4 632.3C317.8 636.3 315.9 640.4 314.8 643.8C313.7 647.3 313.0 651.5 312.6 653.1" fill="none" stroke="#150bc6" stroke-width="7.99" stroke-linecap="butt" stroke-linejoin="round"/>
<path d="M328.1 600.2C329.5 598.5 333.2 595.0 335.2 594.5C337.3 594.0 339.8 594.8 340.3 597.2C340.8 599.7 339.5 606.8 338.2 609.0C337.0 611.2 334.8 611.1 332.9 610.4C331.0 609.7 327.5 606.5 326.7 604.8C325.9 603.2 326.7 602.0 328.1 600.2Z" fill="#150bc6" stroke="#0a0678" stroke-width="0.7" stroke-linejoin="round"/>
<path d="M308.5 642.3 L320.2 642.3 L324.6 655.6 L314.8 651.0Z" fill="#0e0890" stroke="#07044e" stroke-width="0.7" stroke-linejoin="round"/>
<path d="M336.0 574.4C336.6 573.5 338.2 570.4 340.0 569.0C341.8 567.6 344.4 566.6 346.9 566.0C349.4 565.4 352.5 564.8 355.0 565.3C357.5 565.8 360.2 567.2 361.7 569.0C363.2 570.8 363.8 573.7 364.2 576.2C364.7 578.6 364.5 582.4 364.6 583.7" fill="none" stroke="#0a0678" stroke-width="5.72" stroke-linecap="round" stroke-linejoin="round"/>
<path d="M336.0 574.4C336.6 573.5 338.2 570.4 340.0 569.0C341.8 567.6 344.4 566.6 346.9 566.0C349.4 565.4 352.5 564.8 355.0 565.3C357.5 565.8 360.2 567.2 361.7 569.0C363.2 570.8 363.8 573.7 364.2 576.2C364.7 578.6 364.5 582.4 364.6 583.7" fill="none" stroke="#150bc6" stroke-width="4.72" stroke-linecap="round" stroke-linejoin="round"/>
<path d="M343.2 570.6C343.0 571.9 342.5 575.8 341.7 578.5C341.0 581.1 339.3 585.2 338.8 586.5" fill="none" stroke="#0a0678" stroke-width="7.62" stroke-linecap="butt" stroke-linejoin="round"/>
<path d="M343.2 570.6C343.0 571.9 342.5 575.8 341.7 578.5C341.0 581.1 339.3 585.2 338.8 586.5" fill="none" stroke="#150bc6" stroke-width="6.62" stroke-linecap="butt" stroke-linejoin="round"/>
<path d="M362.8 582.5C363.0 584.5 363.1 590.3 363.7 594.6C364.2 598.9 365.2 603.8 366.0 608.5C366.7 613.1 367.4 617.3 368.3 622.3C369.1 627.3 370.4 633.7 371.2 638.5C371.9 643.3 372.3 647.1 372.9 651.2C373.4 655.2 374.1 660.8 374.4 662.7" fill="none" stroke="#0a0678" stroke-width="8.17" stroke-linecap="butt" stroke-linejoin="round"/>
<path d="M362.8 582.5C363.0 584.5 363.1 590.3 363.7 594.6C364.2 598.9 365.2 603.8 366.0 608.5C366.7 613.1 367.4 617.3 368.3 622.3C369.1 627.3 370.4 633.7 371.2 638.5C371.9 643.3 372.3 647.1 372.9 651.2C373.4 655.2 374.1 660.8 374.4 662.7" fill="none" stroke="#150bc6" stroke-width="7.17" stroke-linecap="butt" stroke-linejoin="round"/>
<path d="M358.2 580.5 L367.9 580.5 L368.6 590.2 L363.1 587.7 L358.0 590.9Z" fill="#0e0890" stroke="#07044e" stroke-width="0.7" stroke-linejoin="round"/>
<path d="M369.4 658.1 L379.2 658.1 L376.7 673.7 L373.5 670.8Z" fill="#150bc6" stroke="#0a0678" stroke-width="0.7" stroke-linejoin="round"/>
<path d="M378.1 590.6C377.2 592.8 374.5 599.9 372.9 603.8C371.2 607.8 369.7 610.4 368.3 614.2C366.8 618.1 365.3 622.6 364.2 626.9C363.2 631.2 362.9 635.9 361.9 640.0C361.0 644.1 359.4 647.7 358.5 651.5C357.5 655.3 356.9 659.2 356.2 663.0C355.4 666.9 354.6 670.7 353.8 674.6C353.1 678.4 351.9 684.2 351.5 686.1" fill="none" stroke="#0a0678" stroke-width="8.99" stroke-linecap="butt" stroke-linejoin="round"/>
<path d="M378.1 590.6C377.2 592.8 374.5 599.9 372.9 603.8C371.2 607.8 369.7 610.4 368.3 614.2C366.8 618.1 365.3 622.6 364.2 626.9C363.2 631.2 362.9 635.9 361.9 640.0C361.0 644.1 359.4 647.7 358.5 651.5C357.5 655.3 356.9 659.2 356.2 663.0C355.4 666.9 354.6 670.7 353.8 674.6C353.1 678.4 351.9 684.2 351.5 686.1" fill="none" stroke="#150bc6" stroke-width="7.99" stroke-linecap="butt" stroke-linejoin="round"/>
<path d="M383.6 572.9 L383.8 593.2 L370.2 589.8Z" fill="#150bc6" stroke="#0a0678" stroke-width="0.7" stroke-linejoin="round"/>
<path d="M348.1 602.5C348.6 601.7 349.6 598.2 351.0 597.6C352.3 597.0 355.0 597.6 356.2 598.8C357.3 599.9 357.6 603.6 357.9 604.5" fill="none" stroke="#0a0678" stroke-width="3.81" stroke-linecap="round" stroke-linejoin="round"/>
<path d="M348.1 602.5C348.6 601.7 349.6 598.2 351.0 597.6C352.3 597.0 355.0 597.6 356.2 598.8C357.3 599.9 357.6 603.6 357.9 604.5" fill="none" stroke="#150bc6" stroke-width="2.81" stroke-linecap="round" stroke-linejoin="round"/>
<path d="M357.5 605.2C356.3 606.7 352.9 611.2 350.4 614.2C347.8 617.3 344.9 620.2 342.3 623.7C339.7 627.2 337.0 631.3 334.8 635.0C332.6 638.7 330.5 643.1 329.0 646.0C327.6 648.8 326.6 651.2 326.2 652.3" fill="none" stroke="#0a0678" stroke-width="10.35" stroke-linecap="butt" stroke-linejoin="round"/>
<path d="M357.5 605.2C356.3 606.7 352.9 611.2 350.4 614.2C347.8 617.3 344.9 620.2 342.3 623.7C339.7 627.2 337.0 631.3 334.8 635.0C332.6 638.7 330.5 643.1 329.0 646.0C327.6 648.8 326.6 651.2 326.2 652.3" fill="none" stroke="#150bc6" stroke-width="9.35" stroke-linecap="butt" stroke-linejoin="round"/>
<path d="M336.5 660.5C338.1 660.2 343.1 659.2 345.8 658.5C348.5 657.7 350.3 657.5 352.7 656.2C355.1 654.8 358.9 651.2 360.2 650.2" fill="none" stroke="#0a0678" stroke-width="3.54" stroke-linecap="round" stroke-linejoin="round"/>
<path d="M336.5 660.5C338.1 660.2 343.1 659.2 345.8 658.5C348.5 657.7 350.3 657.5 352.7 656.2C355.1 654.8 358.9 651.2 360.2 650.2" fill="none" stroke="#150bc6" stroke-width="2.54" stroke-linecap="round" stroke-linejoin="round"/>
<path d="M342.8 658.5C341.8 660.2 338.3 665.2 336.4 668.8C334.5 672.5 333.1 676.5 331.5 680.4C330.0 684.2 328.3 688.5 327.2 691.9C326.0 695.3 324.8 699.4 324.4 700.9" fill="none" stroke="#0a0678" stroke-width="7.76" stroke-linecap="butt" stroke-linejoin="round"/>
<path d="M342.8 658.5C341.8 660.2 338.3 665.2 336.4 668.8C334.5 672.5 333.1 676.5 331.5 680.4C330.0 684.2 328.3 688.5 327.2 691.9C326.0 695.3 324.8 699.4 324.4 700.9" fill="none" stroke="#150bc6" stroke-width="6.76" stroke-linecap="butt" stroke-linejoin="round"/>
<path d="M305.9 695.6C306.2 694.3 306.2 690.2 307.7 688.0C309.1 685.8 312.1 683.7 314.6 682.2C317.0 680.8 321.0 679.9 322.3 679.5" fill="none" stroke="#07044e" stroke-width="7.49" stroke-linecap="butt" stroke-linejoin="round"/>
<path d="M305.9 695.6C306.2 694.3 306.2 690.2 307.7 688.0C309.1 685.8 312.1 683.7 314.6 682.2C317.0 680.8 321.0 679.9 322.3 679.5" fill="none" stroke="#0e0890" stroke-width="6.49" stroke-linecap="butt" stroke-linejoin="round"/>
<path d="M314.0 645.8C312.5 647.7 307.4 653.8 305.0 657.3C302.6 660.8 300.8 663.7 299.5 666.5C298.2 669.4 297.0 672.1 297.2 674.6C297.3 677.1 298.7 679.7 300.2 681.5C301.6 683.4 305.0 685.2 305.9 685.9" fill="none" stroke="#0a0678" stroke-width="4.08" stroke-linecap="round" stroke-linejoin="round"/>
<path d="M314.0 645.8C312.5 647.7 307.4 653.8 305.0 657.3C302.6 660.8 300.8 663.7 299.5 666.5C298.2 669.4 297.0 672.1 297.2 674.6C297.3 677.1 298.7 679.7 300.2 681.5C301.6 683.4 305.0 685.2 305.9 685.9" fill="none" stroke="#150bc6" stroke-width="3.08" stroke-linecap="round" stroke-linejoin="round"/>
<path d="M313.1 651.5C313.1 652.5 314.3 659.4 315.6 663.1C317.0 666.7 319.5 670.6 321.2 673.5C322.8 676.3 324.6 680.2 325.8 680.4C327.0 680.6 328.1 676.9 328.3 674.6C328.5 672.3 328.1 669.0 326.9 666.8C325.8 664.5 323.3 662.6 321.4 661.0C319.5 659.4 317.0 658.9 315.6 657.3C314.2 655.7 313.1 650.6 313.1 651.5Z" fill="none" stroke="#0a0678" stroke-width="3.27" stroke-linecap="round" stroke-linejoin="round"/>
<path d="M313.1 651.5C313.1 652.5 314.3 659.4 315.6 663.1C317.0 666.7 319.5 670.6 321.2 673.5C322.8 676.3 324.6 680.2 325.8 680.4C327.0 680.6 328.1 676.9 328.3 674.6C328.5 672.3 328.1 669.0 326.9 666.8C325.8 664.5 323.3 662.6 321.4 661.0C319.5 659.4 317.0 658.9 315.6 657.3C314.2 655.7 313.1 650.6 313.1 651.5Z" fill="none" stroke="#150bc6" stroke-width="2.27" stroke-linecap="round" stroke-linejoin="round"/>
<path d="M379.8 646.3C380.9 647.8 384.3 651.8 386.2 655.0C388.0 658.2 389.6 661.7 390.8 665.4C391.9 669.0 393.0 673.1 393.1 676.9C393.1 680.8 392.2 685.0 391.0 688.5C389.8 691.9 388.1 695.7 386.2 697.7C384.2 699.7 381.3 700.8 379.2 700.2C377.1 699.7 375.0 696.6 373.5 694.2C372.0 691.9 370.6 688.8 370.2 686.2C369.8 683.5 370.4 680.3 371.2 678.1C371.9 675.8 374.0 673.5 374.6 672.5" fill="none" stroke="#0a0678" stroke-width="3.81" stroke-linecap="round" stroke-linejoin="round"/>
<path d="M379.8 646.3C380.9 647.8 384.3 651.8 386.2 655.0C388.0 658.2 389.6 661.7 390.8 665.4C391.9 669.0 393.0 673.1 393.1 676.9C393.1 680.8 392.2 685.0 391.0 688.5C389.8 691.9 388.1 695.7 386.2 697.7C384.2 699.7 381.3 700.8 379.2 700.2C377.1 699.7 375.0 696.6 373.5 694.2C372.0 691.9 370.6 688.8 370.2 686.2C369.8 683.5 370.4 680.3 371.2 678.1C371.9 675.8 374.0 673.5 374.6 672.5" fill="none" stroke="#150bc6" stroke-width="2.81" stroke-linecap="round" stroke-linejoin="round"/>
<path d="M325.6 698.5C327.4 699.0 332.6 701.2 336.2 701.2C339.8 701.2 344.3 700.4 347.3 698.5C350.3 696.6 352.6 692.8 354.2 689.7C355.8 686.6 356.5 681.6 357.0 680.0" fill="none" stroke="#0a0678" stroke-width="3.78" stroke-linecap="round" stroke-linejoin="round"/>
<path d="M325.6 698.5C327.4 699.0 332.6 701.2 336.2 701.2C339.8 701.2 344.3 700.4 347.3 698.5C350.3 696.6 352.6 692.8 354.2 689.7C355.8 686.6 356.5 681.6 357.0 680.0" fill="none" stroke="#150bc6" stroke-width="2.78" stroke-linecap="round" stroke-linejoin="round"/>
<path d="M344.0 680.4C345.0 679.0 348.1 678.3 349.2 679.2C350.3 680.2 351.0 684.2 350.6 686.2C350.2 688.1 348.1 690.6 346.9 690.8C345.7 691.0 343.9 689.0 343.5 687.3C343.0 685.6 343.1 681.7 344.0 680.4Z" fill="none" stroke="#0a0678" stroke-width="3.27" stroke-linecap="round" stroke-linejoin="round"/>
<path d="M344.0 680.4C345.0 679.0 348.1 678.3 349.2 679.2C350.3 680.2 351.0 684.2 350.6 686.2C350.2 688.1 348.1 690.6 346.9 690.8C345.7 691.0 343.9 689.0 343.5 687.3C343.0 685.6 343.1 681.7 344.0 680.4Z" fill="none" stroke="#150bc6" stroke-width="2.27" stroke-linecap="round" stroke-linejoin="round"/>
<path d="M395.6 602.9C395.2 600.9 393.5 594.3 393.2 590.8C392.8 587.2 392.9 583.9 393.6 581.5C394.3 579.2 395.9 577.0 397.2 576.5C398.5 575.9 400.5 576.5 401.4 578.3C402.4 580.1 402.8 583.7 402.9 587.3C403.0 591.0 402.1 598.1 401.9 600.2" fill="none" stroke="#470b0f" stroke-width="1.82" stroke-linecap="round" stroke-linejoin="round"/>
<path d="M395.6 602.9C395.2 600.9 393.5 594.3 393.2 590.8C392.8 587.2 392.9 583.9 393.6 581.5C394.3 579.2 395.9 577.0 397.2 576.5C398.5 575.9 400.5 576.5 401.4 578.3C402.4 580.1 402.8 583.7 402.9 587.3C403.0 591.0 402.1 598.1 401.9 600.2" fill="none" stroke="#931a20" stroke-width="1.12" stroke-linecap="round" stroke-linejoin="round"/>
<path d="M396.8 602.9C396.5 600.9 395.2 594.3 395.0 590.8C394.8 587.2 394.8 583.9 395.5 581.5C396.1 579.2 397.7 577.0 398.9 576.5C400.1 575.9 401.7 576.5 402.5 578.3C403.3 580.1 403.6 583.7 403.6 587.3C403.6 591.0 402.6 598.1 402.5 600.2" fill="none" stroke="#470b0f" stroke-width="1.82" stroke-linecap="round" stroke-linejoin="round"/>
<path d="M396.8 602.9C396.5 600.9 395.2 594.3 395.0 590.8C394.8 587.2 394.8 583.9 395.5 581.5C396.1 579.2 397.7 577.0 398.9 576.5C400.1 575.9 401.7 576.5 402.5 578.3C403.3 580.1 403.6 583.7 403.6 587.3C403.6 591.0 402.6 598.1 402.5 600.2" fill="none" stroke="#931a20" stroke-width="1.12" stroke-linecap="round" stroke-linejoin="round"/>
<path d="M397.9 602.9C397.7 600.9 396.9 594.3 396.8 590.8C396.8 587.2 396.7 583.9 397.3 581.5C397.9 579.2 399.5 577.0 400.6 576.5C401.6 575.9 403.0 576.5 403.6 578.3C404.3 580.1 404.5 583.7 404.4 587.3C404.3 591.0 403.2 598.1 403.0 600.2" fill="none" stroke="#470b0f" stroke-width="1.82" stroke-linecap="round" stroke-linejoin="round"/>
<path d="M397.9 602.9C397.7 600.9 396.9 594.3 396.8 590.8C396.8 587.2 396.7 583.9 397.3 581.5C397.9 579.2 399.5 577.0 400.6 576.5C401.6 575.9 403.0 576.5 403.6 578.3C404.3 580.1 404.5 583.7 404.4 587.3C404.3 591.0 403.2 598.1 403.0 600.2" fill="none" stroke="#931a20" stroke-width="1.12" stroke-linecap="round" stroke-linejoin="round"/>
<path d="M400.2 607.5C400.2 610.3 399.3 619.4 400.2 624.2C401.1 629.0 404.4 633.6 405.6 636.3C406.8 639.1 407.2 639.9 407.5 640.6" fill="none" stroke="#470b0f" stroke-width="10.62" stroke-linecap="butt" stroke-linejoin="round"/>
<path d="M400.2 607.5C400.2 610.3 399.3 619.4 400.2 624.2C401.1 629.0 404.4 633.6 405.6 636.3C406.8 639.1 407.2 639.9 407.5 640.6" fill="none" stroke="#931a20" stroke-width="9.62" stroke-linecap="butt" stroke-linejoin="round"/>
<path d="M401.3 606.0C402.9 605.9 407.5 605.2 410.6 605.2C413.7 605.2 418.3 605.9 419.8 606.0" fill="none" stroke="#470b0f" stroke-width="6.63" stroke-linecap="butt" stroke-linejoin="round"/>
<path d="M401.3 606.0C402.9 605.9 407.5 605.2 410.6 605.2C413.7 605.2 418.3 605.9 419.8 606.0" fill="none" stroke="#931a20" stroke-width="5.63" stroke-linecap="butt" stroke-linejoin="round"/>
<path d="M415.5 604.6C415.6 606.1 414.8 609.4 415.8 613.3C416.7 617.1 420.1 624.4 421.3 627.7C422.5 631.0 422.7 632.0 422.9 632.9" fill="none" stroke="#470b0f" stroke-width="9.82" stroke-linecap="butt" stroke-linejoin="round"/>
<path d="M415.5 604.6C415.6 606.1 414.8 609.4 415.8 613.3C416.7 617.1 420.1 624.4 421.3 627.7C422.5 631.0 422.7 632.0 422.9 632.9" fill="none" stroke="#931a20" stroke-width="8.82" stroke-linecap="butt" stroke-linejoin="round"/>
<path d="M408.6 648.0C410.2 646.1 415.5 639.0 418.1 636.3C420.6 633.7 421.5 634.5 423.8 632.3C426.2 630.2 428.8 626.2 431.9 623.4C435.1 620.7 438.8 618.3 442.9 615.9C446.9 613.5 453.9 610.2 456.2 609.0" fill="none" stroke="#470b0f" stroke-width="11.15" stroke-linecap="butt" stroke-linejoin="round"/>
<path d="M408.6 648.0C410.2 646.1 415.5 639.0 418.1 636.3C420.6 633.7 421.5 634.5 423.8 632.3C426.2 630.2 428.8 626.2 431.9 623.4C435.1 620.7 438.8 618.3 442.9 615.9C446.9 613.5 453.9 610.2 456.2 609.0" fill="none" stroke="#931a20" stroke-width="10.15" stroke-linecap="butt" stroke-linejoin="round"/>
<path d="M418.1 658.0C419.4 655.9 423.3 649.4 426.2 645.3C429.0 641.3 432.1 637.3 435.4 633.8C438.7 630.3 442.3 627.2 445.8 624.6C449.2 622.0 454.4 619.3 456.2 618.2" fill="none" stroke="#470b0f" stroke-width="7.96" stroke-linecap="butt" stroke-linejoin="round"/>
<path d="M418.1 658.0C419.4 655.9 423.3 649.4 426.2 645.3C429.0 641.3 432.1 637.3 435.4 633.8C438.7 630.3 442.3 627.2 445.8 624.6C449.2 622.0 454.4 619.3 456.2 618.2" fill="none" stroke="#931a20" stroke-width="6.96" stroke-linecap="butt" stroke-linejoin="round"/>
<path d="M402.2 604.6 L418.1 604.6 L423.8 632.3 L407.9 640.6Z" fill="#931a20" stroke="#470b0f" stroke-width="0.7" stroke-linejoin="round"/>
<path d="M405.2 609.6 L410.2 609.9 L413.5 621.7 L408.8 623.4Z" fill="#ffffff" stroke="#ffffff" stroke-width="0.7" stroke-linejoin="round"/>
<path d="M423.8 596.3C424.2 597.3 424.4 600.7 425.9 602.3C427.5 603.9 430.5 605.4 433.1 606.0C435.6 606.6 438.9 606.4 441.2 606.0C443.4 605.6 445.5 603.9 446.3 603.5" fill="none" stroke="#470b0f" stroke-width="3.18" stroke-linecap="round" stroke-linejoin="round"/>
<path d="M423.8 596.3C424.2 597.3 424.4 600.7 425.9 602.3C427.5 603.9 430.5 605.4 433.1 606.0C435.6 606.6 438.9 606.4 441.2 606.0C443.4 605.6 445.5 603.9 446.3 603.5" fill="none" stroke="#931a20" stroke-width="2.18" stroke-linecap="round" stroke-linejoin="round"/>
<path d="M443.1 603.5C444.3 602.7 447.5 600.3 450.0 598.8C452.5 597.4 455.6 595.9 458.1 594.8C460.6 593.8 463.9 592.9 465.0 592.5" fill="none" stroke="#470b0f" stroke-width="11.28" stroke-linecap="butt" stroke-linejoin="round"/>
<path d="M443.1 603.5C444.3 602.7 447.5 600.3 450.0 598.8C452.5 597.4 455.6 595.9 458.1 594.8C460.6 593.8 463.9 592.9 465.0 592.5" fill="none" stroke="#931a20" stroke-width="10.28" stroke-linecap="butt" stroke-linejoin="round"/>
<path d="M436.8 639.8C437.0 638.6 436.8 634.7 437.9 632.3C439.0 629.9 440.6 627.5 443.5 625.6C446.3 623.7 453.1 621.8 455.0 621.0" fill="none" stroke="#470b0f" stroke-width="2.49" stroke-linecap="round" stroke-linejoin="round"/>
<path d="M436.8 639.8C437.0 638.6 436.8 634.7 437.9 632.3C439.0 629.9 440.6 627.5 443.5 625.6C446.3 623.7 453.1 621.8 455.0 621.0" fill="none" stroke="#931a20" stroke-width="1.49" stroke-linecap="round" stroke-linejoin="round"/>
<path d="M438.8 649.6C439.2 647.9 439.8 642.1 441.2 639.2C442.5 636.3 444.6 634.2 446.9 632.3C449.2 630.4 453.7 628.5 455.0 627.7" fill="none" stroke="#470b0f" stroke-width="2.49" stroke-linecap="round" stroke-linejoin="round"/>
<path d="M438.8 649.6C439.2 647.9 439.8 642.1 441.2 639.2C442.5 636.3 444.6 634.2 446.9 632.3C449.2 630.4 453.7 628.5 455.0 627.7" fill="none" stroke="#931a20" stroke-width="1.49" stroke-linecap="round" stroke-linejoin="round"/>
<path d="M464.4 593.7C464.5 591.8 467.0 587.0 468.7 585.0C470.4 583.0 472.9 581.4 474.8 581.5C476.7 581.7 478.8 583.7 480.0 585.9C481.2 588.1 482.5 592.8 481.8 594.7C481.2 596.5 478.5 596.8 476.3 597.0C474.1 597.2 470.4 596.4 468.5 595.8C466.5 595.3 464.4 595.5 464.4 593.7Z" fill="#931a20" stroke="#470b0f" stroke-width="0.7" stroke-linejoin="round"/>
<path d="M462.1 600.6C463.2 601.2 467.0 602.8 468.5 604.4C469.9 606.0 470.9 608.4 470.8 610.4C470.6 612.4 468.9 614.8 467.5 616.4C466.2 618.0 464.3 619.5 462.5 619.8C460.6 620.2 457.4 618.7 456.3 618.5" fill="none" stroke="#470b0f" stroke-width="5.97" stroke-linecap="round" stroke-linejoin="round"/>
<path d="M462.1 600.6C463.2 601.2 467.0 602.8 468.5 604.4C469.9 606.0 470.9 608.4 470.8 610.4C470.6 612.4 468.9 614.8 467.5 616.4C466.2 618.0 464.3 619.5 462.5 619.8C460.6 620.2 457.4 618.7 456.3 618.5" fill="none" stroke="#931a20" stroke-width="4.97" stroke-linecap="round" stroke-linejoin="round"/>
<path d="M470.8 612.9C472.1 613.1 476.5 613.0 478.8 614.1C481.2 615.2 483.2 617.5 484.6 619.6C486.0 621.7 486.3 624.3 487.2 626.5C488.0 628.8 488.8 630.8 489.5 632.9C490.1 635.0 491.2 637.2 491.0 639.2C490.8 641.2 489.7 643.6 488.3 645.0C486.9 646.4 484.5 647.5 482.5 647.5C480.6 647.6 477.7 645.6 476.8 645.2" fill="none" stroke="#470b0f" stroke-width="3.00" stroke-linecap="round" stroke-linejoin="round"/>
<path d="M470.8 612.9C472.1 613.1 476.5 613.0 478.8 614.1C481.2 615.2 483.2 617.5 484.6 619.6C486.0 621.7 486.3 624.3 487.2 626.5C488.0 628.8 488.8 630.8 489.5 632.9C490.1 635.0 491.2 637.2 491.0 639.2C490.8 641.2 489.7 643.6 488.3 645.0C486.9 646.4 484.5 647.5 482.5 647.5C480.6 647.6 477.7 645.6 476.8 645.2" fill="none" stroke="#931a20" stroke-width="2.00" stroke-linecap="round" stroke-linejoin="round"/>
<path d="M467.3 632.9C468.3 632.3 470.8 630.2 473.1 629.4C475.4 628.7 478.8 628.2 481.2 628.3C483.5 628.4 486.2 629.7 487.2 630.0" fill="none" stroke="#470b0f" stroke-width="7.70" stroke-linecap="round" stroke-linejoin="round"/>
<path d="M467.3 632.9C468.3 632.3 470.8 630.2 473.1 629.4C475.4 628.7 478.8 628.2 481.2 628.3C483.5 628.4 486.2 629.7 487.2 630.0" fill="none" stroke="#931a20" stroke-width="6.70" stroke-linecap="round" stroke-linejoin="round"/>
<path d="M465.9 650.8C466.3 649.7 467.0 645.9 468.5 644.4C469.9 642.9 473.5 642.2 474.5 641.8" fill="none" stroke="#33080b" stroke-width="5.31" stroke-linecap="round" stroke-linejoin="round"/>
<path d="M465.9 650.8C466.3 649.7 467.0 645.9 468.5 644.4C469.9 642.9 473.5 642.2 474.5 641.8" fill="none" stroke="#5a1116" stroke-width="4.31" stroke-linecap="round" stroke-linejoin="round"/>
<path d="M448.8 609.8C450.6 609.4 456.7 608.4 459.2 607.2C461.8 605.9 463.3 603.3 464.1 602.5" fill="none" stroke="#470b0f" stroke-width="5.31" stroke-linecap="butt" stroke-linejoin="round"/>
<path d="M448.8 609.8C450.6 609.4 456.7 608.4 459.2 607.2C461.8 605.9 463.3 603.3 464.1 602.5" fill="none" stroke="#931a20" stroke-width="4.31" stroke-linecap="butt" stroke-linejoin="round"/>
<path d="M448.8 618.7C450.2 618.5 454.6 617.3 456.9 617.5C459.2 617.7 461.7 619.5 462.7 619.8" fill="none" stroke="#470b0f" stroke-width="4.64" stroke-linecap="butt" stroke-linejoin="round"/>
<path d="M448.8 618.7C450.2 618.5 454.6 617.3 456.9 617.5C459.2 617.7 461.7 619.5 462.7 619.8" fill="none" stroke="#931a20" stroke-width="3.64" stroke-linecap="butt" stroke-linejoin="round"/>
<path d="M406.0 638.8 L418.7 638.8 L412.3 650.4 L406.0 657.3 L401.3 659.0 L403.7 652.7Z" fill="#931a20" stroke="#470b0f" stroke-width="0.7" stroke-linejoin="round"/>
<path d="M403.3 658.5C402.9 660.0 402.2 665.0 401.0 667.7C399.8 670.4 396.8 673.7 395.9 674.8" fill="none" stroke="#470b0f" stroke-width="1.99" stroke-linecap="round" stroke-linejoin="round"/>
<path d="M403.3 658.5C402.9 660.0 402.2 665.0 401.0 667.7C399.8 670.4 396.8 673.7 395.9 674.8" fill="none" stroke="#931a20" stroke-width="1.39" stroke-linecap="round" stroke-linejoin="round"/>
<path d="M427.9 648.1C427.3 649.8 425.6 655.4 424.4 658.5C423.3 661.5 422.2 664.1 421.0 666.5C419.7 669.0 417.6 672.1 416.9 673.2" fill="none" stroke="#470b0f" stroke-width="10.88" stroke-linecap="butt" stroke-linejoin="round"/>
<path d="M427.9 648.1C427.3 649.8 425.6 655.4 424.4 658.5C423.3 661.5 422.2 664.1 421.0 666.5C419.7 669.0 417.6 672.1 416.9 673.2" fill="none" stroke="#931a20" stroke-width="9.88" stroke-linecap="butt" stroke-linejoin="round"/>
<path d="M427.9 652.7C428.2 655.4 428.9 663.7 429.8 668.8C430.8 674.0 432.0 679.4 433.3 683.8C434.7 688.3 436.2 691.9 437.9 695.4C439.7 698.8 442.1 702.0 443.7 704.6C445.3 707.2 446.9 709.9 447.5 711.0" fill="none" stroke="#470b0f" stroke-width="7.70" stroke-linecap="butt" stroke-linejoin="round"/>
<path d="M427.9 652.7C428.2 655.4 428.9 663.7 429.8 668.8C430.8 674.0 432.0 679.4 433.3 683.8C434.7 688.3 436.2 691.9 437.9 695.4C439.7 698.8 442.1 702.0 443.7 704.6C445.3 707.2 446.9 709.9 447.5 711.0" fill="none" stroke="#931a20" stroke-width="6.70" stroke-linecap="butt" stroke-linejoin="round"/>
<path d="M438.8 701.2 L452.7 704.6 L451.5 720.2 L445.8 716.2 L439.4 709.2Z" fill="#931a20" stroke="#470b0f" stroke-width="0.7" stroke-linejoin="round"/>
<path d="M433.3 655.0C433.9 657.3 435.4 665.0 436.8 668.8C438.1 672.7 439.3 674.8 441.4 678.3C443.5 681.8 448.8 687.3 449.2 689.8C449.6 692.3 445.6 693.5 443.7 693.3C441.8 693.1 438.9 689.5 437.9 688.7" fill="none" stroke="#470b0f" stroke-width="1.99" stroke-linecap="round" stroke-linejoin="round"/>
<path d="M433.3 655.0C433.9 657.3 435.4 665.0 436.8 668.8C438.1 672.7 439.3 674.8 441.4 678.3C443.5 681.8 448.8 687.3 449.2 689.8C449.6 692.3 445.6 693.5 443.7 693.3C441.8 693.1 438.9 689.5 437.9 688.7" fill="none" stroke="#931a20" stroke-width="1.39" stroke-linecap="round" stroke-linejoin="round"/>
<path d="M420.4 674.6C420.6 675.4 420.6 678.3 421.8 679.2C423.0 680.2 425.5 681.1 427.5 680.4C429.6 679.7 433.1 675.8 434.2 674.8" fill="none" stroke="#470b0f" stroke-width="2.32" stroke-linecap="round" stroke-linejoin="round"/>
<path d="M420.4 674.6C420.6 675.4 420.6 678.3 421.8 679.2C423.0 680.2 425.5 681.1 427.5 680.4C429.6 679.7 433.1 675.8 434.2 674.8" fill="none" stroke="#931a20" stroke-width="1.72" stroke-linecap="round" stroke-linejoin="round"/>
<path d="M456.2 677.5C454.6 678.6 449.4 682.4 446.9 683.8C444.4 685.3 442.1 686.0 441.2 686.4" fill="none" stroke="#470b0f" stroke-width="1.99" stroke-linecap="round" stroke-linejoin="round"/>
<path d="M456.2 677.5C454.6 678.6 449.4 682.4 446.9 683.8C444.4 685.3 442.1 686.0 441.2 686.4" fill="none" stroke="#931a20" stroke-width="1.39" stroke-linecap="round" stroke-linejoin="round"/>
<path d="M441.9 644.6C443.1 645.7 446.3 648.7 448.8 651.0C451.3 653.3 454.2 655.7 456.9 658.5C459.6 661.2 462.4 664.7 465.0 667.7C467.6 670.7 471.2 675.2 472.5 676.7" fill="none" stroke="#33080b" stroke-width="9.02" stroke-linecap="butt" stroke-linejoin="round"/>
<path d="M441.9 644.6C443.1 645.7 446.3 648.7 448.8 651.0C451.3 653.3 454.2 655.7 456.9 658.5C459.6 661.2 462.4 664.7 465.0 667.7C467.6 670.7 471.2 675.2 472.5 676.7" fill="none" stroke="#5a1116" stroke-width="8.02" stroke-linecap="butt" stroke-linejoin="round"/>
<path d="M475.6 641.4C474.5 641.9 470.1 643.1 468.7 644.6C467.3 646.1 467.1 648.5 467.3 650.4C467.5 652.3 468.3 655.3 469.8 656.2C471.4 657.0 474.5 655.0 476.5 655.2C478.6 655.4 480.9 656.2 482.3 657.3C483.7 658.4 485.0 660.4 484.8 661.9C484.7 663.5 483.0 665.2 481.4 666.5C479.8 667.9 477.9 668.8 475.4 670.0C472.8 671.2 469.2 672.5 466.2 673.7C463.1 674.9 460.8 675.6 456.9 677.2C453.1 678.7 445.4 682.0 443.1 682.9" fill="none" stroke="#470b0f" stroke-width="3.00" stroke-linecap="round" stroke-linejoin="round"/>
<path d="M475.6 641.4C474.5 641.9 470.1 643.1 468.7 644.6C467.3 646.1 467.1 648.5 467.3 650.4C467.5 652.3 468.3 655.3 469.8 656.2C471.4 657.0 474.5 655.0 476.5 655.2C478.6 655.4 480.9 656.2 482.3 657.3C483.7 658.4 485.0 660.4 484.8 661.9C484.7 663.5 483.0 665.2 481.4 666.5C479.8 667.9 477.9 668.8 475.4 670.0C472.8 671.2 469.2 672.5 466.2 673.7C463.1 674.9 460.8 675.6 456.9 677.2C453.1 678.7 445.4 682.0 443.1 682.9" fill="none" stroke="#931a20" stroke-width="2.00" stroke-linecap="round" stroke-linejoin="round"/>
<path d="M475.6 643.7C476.7 644.4 480.2 647.7 482.3 648.1C484.4 648.4 486.7 647.1 488.1 645.8C489.5 644.4 490.2 641.0 490.6 640.0" fill="none" stroke="#470b0f" stroke-width="2.99" stroke-linecap="round" stroke-linejoin="round"/>
<path d="M475.6 643.7C476.7 644.4 480.2 647.7 482.3 648.1C484.4 648.4 486.7 647.1 488.1 645.8C489.5 644.4 490.2 641.0 490.6 640.0" fill="none" stroke="#931a20" stroke-width="1.99" stroke-linecap="round" stroke-linejoin="round"/>
<path d="M476.8 674.6C477.9 674.5 481.8 673.6 483.5 674.2C485.2 674.7 486.2 676.1 486.9 678.1C487.7 680.1 487.9 684.8 488.1 686.2" fill="none" stroke="#33080b" stroke-width="3.18" stroke-linecap="round" stroke-linejoin="round"/>
<path d="M476.8 674.6C477.9 674.5 481.8 673.6 483.5 674.2C485.2 674.7 486.2 676.1 486.9 678.1C487.7 680.1 487.9 684.8 488.1 686.2" fill="none" stroke="#5a1116" stroke-width="2.18" stroke-linecap="round" stroke-linejoin="round"/>
<path d="M487.2 682.9C486.0 683.8 482.3 686.6 480.2 688.5C478.1 690.3 476.0 692.1 474.5 694.2C472.9 696.3 471.4 699.2 471.0 701.2C470.6 703.1 471.8 705.2 471.9 706.0" fill="none" stroke="#470b0f" stroke-width="2.99" stroke-linecap="round" stroke-linejoin="round"/>
<path d="M487.2 682.9C486.0 683.8 482.3 686.6 480.2 688.5C478.1 690.3 476.0 692.1 474.5 694.2C472.9 696.3 471.4 699.2 471.0 701.2C470.6 703.1 471.8 705.2 471.9 706.0" fill="none" stroke="#931a20" stroke-width="1.99" stroke-linecap="round" stroke-linejoin="round"/>
<path d="M453.5 704.8C454.8 705.2 458.5 707.0 461.5 707.2C464.6 707.3 470.2 706.2 471.9 706.0" fill="none" stroke="#33080b" stroke-width="6.37" stroke-linecap="round" stroke-linejoin="round"/>
<path d="M453.5 704.8C454.8 705.2 458.5 707.0 461.5 707.2C464.6 707.3 470.2 706.2 471.9 706.0" fill="none" stroke="#5a1116" stroke-width="5.37" stroke-linecap="round" stroke-linejoin="round"/>
<path d="M405.2 541.3C406.3 540.9 409.5 538.7 411.9 538.8C414.4 539.0 417.6 540.6 420.0 542.3C422.4 544.0 425.1 546.8 426.3 549.0C427.6 551.3 428.0 553.5 427.3 555.8C426.6 558.0 423.7 560.5 421.9 562.5C420.2 564.5 417.6 565.5 416.9 567.7C416.2 569.8 417.2 573.1 417.7 575.4C418.1 577.6 419.9 579.4 419.6 581.2C419.3 582.9 416.4 585.0 415.8 585.8" fill="none" stroke="#858585" stroke-width="4.81" stroke-linecap="round" stroke-linejoin="round"/>
<path d="M405.2 541.3C406.3 540.9 409.5 538.7 411.9 538.8C414.4 539.0 417.6 540.6 420.0 542.3C422.4 544.0 425.1 546.8 426.3 549.0C427.6 551.3 428.0 553.5 427.3 555.8C426.6 558.0 423.7 560.5 421.9 562.5C420.2 564.5 417.6 565.5 416.9 567.7C416.2 569.8 417.2 573.1 417.7 575.4C418.1 577.6 419.9 579.4 419.6 581.2C419.3 582.9 416.4 585.0 415.8 585.8" fill="none" stroke="#d6d6d6" stroke-width="2.81" stroke-linecap="round" stroke-linejoin="round"/>
<path d="M377.7 570.8C379.2 569.6 384.0 566.0 386.5 563.8C389.1 561.7 391.5 560.3 393.1 558.1C394.6 555.8 394.4 552.6 395.8 550.4C397.1 548.1 399.6 546.1 401.2 544.6C402.8 543.1 404.7 542.1 405.4 541.5" fill="none" stroke="#4c9420" stroke-width="5.96" stroke-linecap="round" stroke-linejoin="round"/>
<path d="M377.7 570.8C379.2 569.6 384.0 566.0 386.5 563.8C389.1 561.7 391.5 560.3 393.1 558.1C394.6 555.8 394.4 552.6 395.8 550.4C397.1 548.1 399.6 546.1 401.2 544.6C402.8 543.1 404.7 542.1 405.4 541.5" fill="none" stroke="#88de3e" stroke-width="4.46" stroke-linecap="round" stroke-linejoin="round"/>
<path d="M415.8 585.8C415.0 586.9 412.4 590.1 411.2 592.7C409.9 595.3 409.7 598.8 408.1 601.2C406.4 603.5 404.2 605.3 401.3 606.9C398.5 608.5 394.1 609.8 390.8 610.8C387.5 611.7 384.4 611.6 381.5 612.7C378.7 613.8 376.1 615.3 373.8 617.3C371.6 619.3 369.0 623.4 368.1 624.6" fill="none" stroke="#4c9420" stroke-width="4.62" stroke-linecap="round" stroke-linejoin="round"/>
<path d="M415.8 585.8C415.0 586.9 412.4 590.1 411.2 592.7C409.9 595.3 409.7 598.8 408.1 601.2C406.4 603.5 404.2 605.3 401.3 606.9C398.5 608.5 394.1 609.8 390.8 610.8C387.5 611.7 384.4 611.6 381.5 612.7C378.7 613.8 376.1 615.3 373.8 617.3C371.6 619.3 369.0 623.4 368.1 624.6" fill="none" stroke="#88de3e" stroke-width="3.12" stroke-linecap="round" stroke-linejoin="round"/>
<path d="M368.1 624.6C368.5 625.1 369.0 627.8 370.6 627.3C372.2 626.8 376.1 623.7 377.7 621.5C379.3 619.4 379.9 615.8 380.4 614.6" fill="none" stroke="#4c9420" stroke-width="3.85" stroke-linecap="round" stroke-linejoin="round"/>
<path d="M368.1 624.6C368.5 625.1 369.0 627.8 370.6 627.3C372.2 626.8 376.1 623.7 377.7 621.5C379.3 619.4 379.9 615.8 380.4 614.6" fill="none" stroke="#88de3e" stroke-width="2.35" stroke-linecap="round" stroke-linejoin="round"/>
</g>
</svg></body></html>
